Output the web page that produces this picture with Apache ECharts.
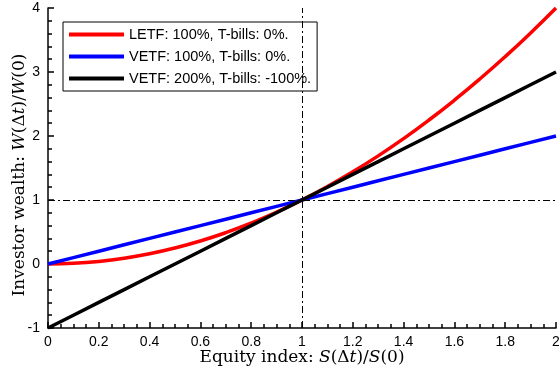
<!DOCTYPE html>
<html>
<head>
<meta charset="utf-8">
<script src="https://cdn.jsdelivr.net/npm/echarts@6/dist/echarts.min.js"></script>
<style>html,body{margin:0;padding:0;background:#fff;}#c{width:559px;height:374px;}</style>
</head>
<body>
<div id="c"></div>
<script>
var xValues = [0, 0.1, 0.2, 0.3, 0.4, 0.5, 0.6, 0.7, 0.8, 0.9, 1.0, 1.1, 1.2, 1.3, 1.4, 1.5, 1.6, 1.7, 1.8, 1.9, 2.0];
var letf100 = [0, 0.01, 0.04, 0.09, 0.16, 0.25, 0.36, 0.49, 0.64, 0.81, 1.0, 1.21, 1.44, 1.69, 1.96, 2.25, 2.56, 2.89, 3.24, 3.61, 4.0];
var vetf100 = [0, 0.1, 0.2, 0.3, 0.4, 0.5, 0.6, 0.7, 0.8, 0.9, 1.0, 1.1, 1.2, 1.3, 1.4, 1.5, 1.6, 1.7, 1.8, 1.9, 2.0];
var vetf200 = [-1, -0.8, -0.6, -0.4, -0.2, 0, 0.2, 0.4, 0.6, 0.8, 1.0, 1.2, 1.4, 1.6, 1.8, 2.0, 2.2, 2.4, 2.6, 2.8, 3.0];
var seriesNames = ['LETF: 100%, T-bills: 0%.', 'VETF: 100%, T-bills: 0%.', 'VETF: 200%, T-bills: -100%.'];
var refX = 1, refY = 1;

function pairs(ys){ return xValues.map(function(x,i){ return [x, ys[i]]; }); }

var chart = echarts.init(document.getElementById('c'));
var serif = '"DejaVu Serif",serif';
var sans = '"Liberation Sans",Arial,Helvetica,sans-serif';
var rich = {
  n: {fontFamily: serif, fontSize: 17, color: '#000'},
  i: {fontFamily: serif, fontSize: 17, fontStyle: 'italic', color: '#000'}
};
chart.setOption({
  animation: false,
  grid: {left: 48, right: 3, top: 8, bottom: 46, containLabel: false, outerBoundsMode: 'none'},
  legend: {
    data: seriesNames,
    orient: 'vertical',
    left: 63, top: 22,
    icon: 'rect',
    itemWidth: 55, itemHeight: 4,
    itemGap: 7,
    padding: [5, 6, 5, 6],
    borderColor: '#000', borderWidth: 1,
    backgroundColor: '#fff',
    textStyle: {fontFamily: sans, fontSize: 14.5, color: '#000'},
    selectedMode: false
  },
  xAxis: {
    type: 'value', min: 0, max: 2, interval: 0.2,
    axisLine: {show: true, onZero: false, lineStyle: {color: '#000', width: 1.5}},
    axisTick: {show: true, inside: true, length: 6, lineStyle: {color: '#000', width: 1.5}},
    minorTick: {show: true, splitNumber: 4, length: 4, lineStyle: {color: '#000', width: 1.5}},
    splitLine: {show: false},
    minorSplitLine: {show: false},
    axisLabel: {fontFamily: sans, fontSize: 14, color: '#000', margin: 7,
      formatter: function(v){ return String(Math.round(v*10)/10); }},
    name: '{n|Equity index: }{i|S}{n|(Δ}{i|t}{n|)/}{i|S}{n|(0)}',
    nameLocation: 'middle', nameGap: 21, nameMoveOverlap: false,
    nameTextStyle: {rich: rich}
  },
  yAxis: {
    type: 'value', min: -1, max: 4, interval: 1,
    axisLine: {show: true, onZero: false, lineStyle: {color: '#000', width: 1.5}},
    axisTick: {show: true, inside: true, length: 6, lineStyle: {color: '#000', width: 1.5}},
    minorTick: {show: true, splitNumber: 5, length: 4, lineStyle: {color: '#000', width: 1.5}},
    splitLine: {show: false},
    minorSplitLine: {show: false},
    axisLabel: {fontFamily: sans, fontSize: 14, color: '#000', margin: 8},
    name: '{n|Investor wealth: }{i|W}{n|(Δ}{i|t}{n|)/}{i|W}{n|(0)}',
    nameLocation: 'middle', nameGap: 20, nameMoveOverlap: false,
    nameTextStyle: {rich: rich, padding: [0, 14, 0, 0]}
  },
  series: [
    {
      name: 'ref', type: 'line', data: [], z: 1, silent: true,
      markLine: {
        silent: true, symbol: 'none', label: {show: false},
        lineStyle: {color: '#000', width: 1, type: [7, 3, 2, 3]},
        data: [{xAxis: refX}, {yAxis: refY}]
      }
    },
    {name: seriesNames[0], type: 'line', data: pairs(letf100), smooth: true, showSymbol: false,
      lineStyle: {color: '#ff0000', width: 3.5}, itemStyle: {color: '#ff0000'}, z: 3},
    {name: seriesNames[1], type: 'line', data: pairs(vetf100), showSymbol: false,
      lineStyle: {color: '#0000ff', width: 3.5}, itemStyle: {color: '#0000ff'}, z: 3},
    {name: seriesNames[2], type: 'line', data: pairs(vetf200), showSymbol: false,
      lineStyle: {color: '#000', width: 3.5}, itemStyle: {color: '#000'}, z: 3}
  ]
});
</script>
</body>
</html>
